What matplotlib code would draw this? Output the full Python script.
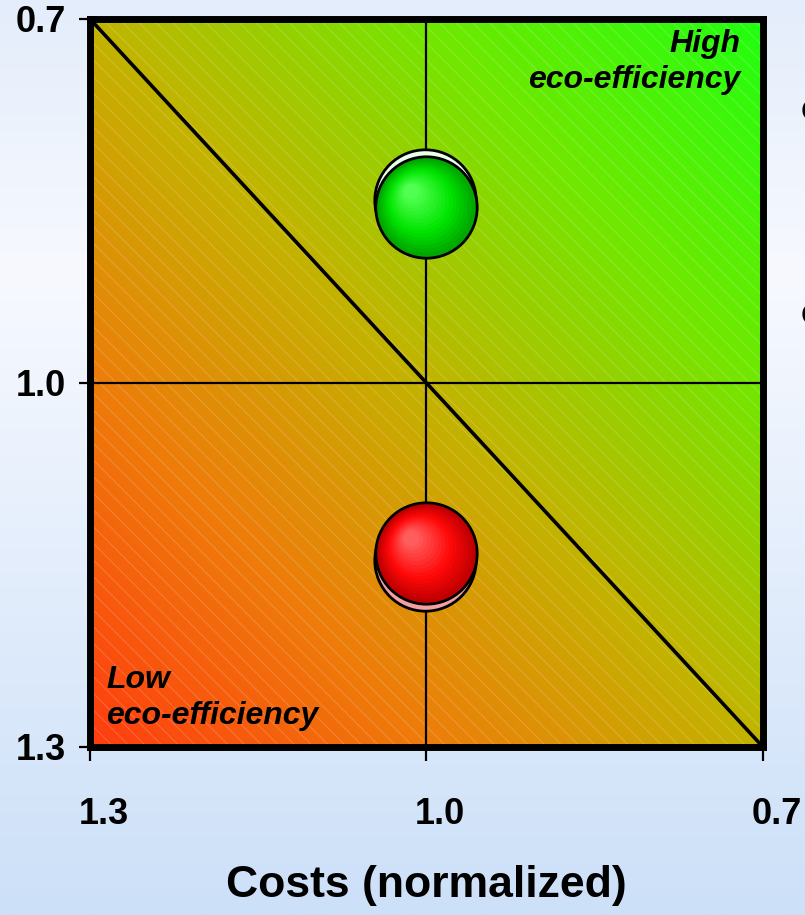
import numpy as np
import matplotlib
import matplotlib.pyplot as plt
from matplotlib.colors import LinearSegmentedColormap, to_rgb
from matplotlib.patches import Rectangle
from matplotlib.transforms import offset_copy, ScaledTranslation

plt.rcParams['font.family'] = ['Liberation Sans', 'DejaVu Sans']
plt.rcParams['hatch.linewidth'] = 0.6

# axis range (both axes reversed: lower is better)
axis_lo, axis_mid, axis_hi = 0.7, 1.0, 1.3
tick_values = [1.3, 1.0, 0.7]
tick_labels = ['1.3', '1.0', '0.7']

# products: costs (x) and environmental impact (y), both normalized
cost_values = [1.0, 1.0]
impact_values = [0.855, 1.14]
bubble_dark = ['#00a800', '#c00000']
bubble_light = ['#50ff50', '#ff5c5c']
bubble_mid = ['#00e400', '#ff0808']
bubble_back = ['#e8ffe8', '#f4a0a0']
back_shift = [4.5, -5.5]   # points, shadow bubble offset

fig = plt.figure(figsize=(8.05, 9.15), dpi=100)

# light blue backdrop for the whole slide
bg = fig.add_axes([0, 0, 1, 1], zorder=-5)
yy = np.linspace(0, 1, 400)[:, None]
top_c = np.array(to_rgb('#e4edfb'))
mid_c = np.array(to_rgb('#f7f9ff'))
bot_c = np.array(to_rgb('#cce0f8'))
w = np.clip((yy - 0.0) / 0.3, 0, 1)
w2 = np.clip((yy - 0.3) / 0.7, 0, 1)
rgb = np.where(yy[..., None] < 0.3,
               top_c + (mid_c - top_c) * w[..., None],
               mid_c + (bot_c - mid_c) * w2[..., None])
rgb = np.repeat(rgb, 2, axis=1)
bg.imshow(rgb, aspect='auto', extent=[0, 1, 0, 1], origin='upper')
bg.axis('off')

ax = fig.add_axes([89.5 / 805, 1 - 747 / 915, 673.5 / 805, 728.5 / 915])

# diagonal colour field: red-orange (bottom left) -> green (top right)
cmap = LinearSegmentedColormap.from_list(
    'eco', [(0.0, '#ff3c10'), (0.25, '#ee7c0a'), (0.5, '#c2b400'),
            (0.75, '#70e800'), (1.0, '#20ff10')])
gx = np.linspace(axis_hi, axis_lo, 300)
gy = np.linspace(axis_hi, axis_lo, 300)
GX, GY = np.meshgrid(gx, gy)
t = ((axis_hi - GX) + (axis_hi - GY)) / (2 * (axis_hi - axis_lo))
ax.imshow(t, cmap=cmap, extent=[axis_hi, axis_lo, axis_hi, axis_lo],
          origin='lower', aspect='auto', zorder=0, vmin=0, vmax=1)
ax.add_patch(Rectangle((0, 0), 1, 1, transform=ax.transAxes, facecolor='none',
                       edgecolor=(1, 1, 1, 0.22), lw=0, hatch='\\\\', zorder=1))

ax.set_xlim(axis_hi, axis_lo)
ax.set_ylim(axis_hi, axis_lo)

ax.axhline(axis_mid, color='k', lw=1.6, zorder=2)
ax.axvline(axis_mid, color='k', lw=1.6, zorder=2)
ax.plot([axis_hi, axis_lo], [axis_lo, axis_hi], color='k', lw=2.6, zorder=2)

# shaded bubbles: dark rim -> bright body -> light highlight
R = 36.5  # radius in points
n_layers = 16
for x, y, dk, md, lt, bk, sh in zip(cost_values, impact_values, bubble_dark,
                                    bubble_mid, bubble_light, bubble_back,
                                    back_shift):
    tr = offset_copy(ax.transData, fig=fig, x=-1, y=sh, units='points')
    ax.scatter([x], [y], s=(2 * R) ** 2, color=bk, edgecolor='k', lw=2,
               transform=tr, zorder=3)
    ax.scatter([x], [y], s=(2 * R) ** 2, color=dk, edgecolor='k', lw=2,
               zorder=4)
    c0, c1, c2 = (np.array(to_rgb(c)) for c in (dk, md, lt))
    for k in range(1, n_layers):
        f = k / (n_layers - 1)
        if f < 0.4:
            col = c0 + (c1 - c0) * (f / 0.4)
        else:
            col = c1 + (c2 - c1) * ((f - 0.4) / 0.6)
        r = R * (1 - 0.8 * f) - 1.5
        tr = offset_copy(ax.transData, fig=fig, x=-0.3 * R * f,
                         y=0.3 * R * f, units='points')
        ax.scatter([x], [y], s=(2 * r) ** 2, color=col,
                   lw=0, transform=tr, zorder=5)

ax.text(0.966, 0.985, 'High\neco-efficiency', transform=ax.transAxes,
        ha='right', va='top', fontsize=23, fontweight='bold',
        fontstyle='italic', linespacing=1.25, zorder=6)
ax.text(0.0245, 0.022, 'Low\neco-efficiency', transform=ax.transAxes,
        ha='left', va='bottom', fontsize=23, fontweight='bold',
        fontstyle='italic', linespacing=1.25, zorder=6)

for sp in ax.spines.values():
    sp.set_linewidth(5)
    sp.set_zorder(7)

ax.set_xticks(tick_values)
ax.set_xticklabels(tick_labels)
ax.set_yticks(tick_values)
ax.set_yticklabels(tick_labels)
ax.tick_params(axis='x', length=10, width=1.6, pad=26, labelsize=26)
ax.tick_params(axis='y', length=8, width=1.6, pad=9, labelsize=26)
for lab in ax.get_xticklabels() + ax.get_yticklabels():
    lab.set_fontweight('bold')
for lab in ax.get_xticklabels():
    lab.set_transform(lab.get_transform() +
                      ScaledTranslation(0.14, 0, fig.dpi_scale_trans))

ax.set_xlabel('Costs (normalized)', fontsize=32, fontweight='bold',
              labelpad=24)

# cut-off labels at the right edge of the slide
fig.text(801 / 805, 1 - 111 / 915, 'o', fontsize=26, fontweight='bold',
         va='center', ha='left')
fig.text(801 / 805, 1 - 314 / 915, 'o', fontsize=26, fontweight='bold',
         va='center', ha='left')

fig.savefig('out.png', dpi=100)
